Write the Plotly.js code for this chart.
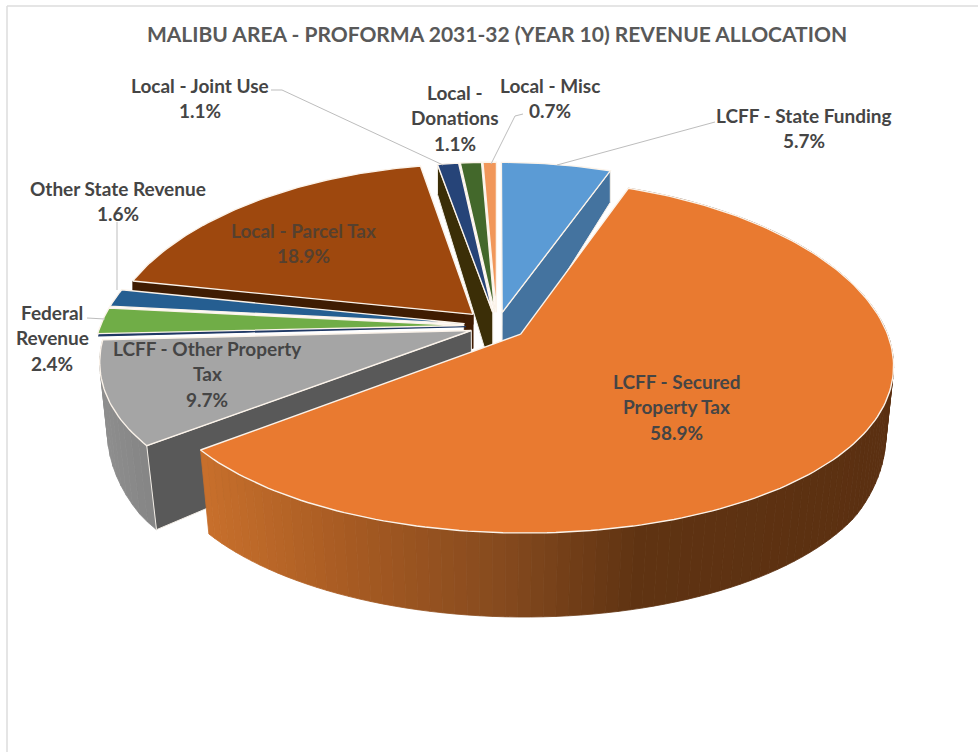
<!DOCTYPE html>
<html><head><meta charset="utf-8">
<script src="https://cdn.plot.ly/plotly-3.0.1.min.js"></script>
<style>html,body{margin:0;padding:0;background:#fff}#chart{width:978px;height:752px}</style>
</head><body><div id="chart"></div>
<script>
// ---------- data ----------
const titleText = 'MALIBU AREA - PROFORMA 2031-32 (YEAR 10) REVENUE ALLOCATION';
const categories = ['LCFF - State Funding','LCFF - Secured Property Tax','LCFF - Other Property Tax','Unlabeled','Federal Revenue','Other State Revenue','Local - Parcel Tax','Local - Joint Use','Local - Donations','Local - Misc'];
const shares = [5.7,58.9,9.7,0.1,2.4,1.6,18.9,1.1,1.1,0.7];
const labelLines = [
  ['LCFF - State Funding'],['LCFF - Secured','Property Tax'],['LCFF - Other Property','Tax'],[],
  ['Federal','Revenue'],['Other State Revenue'],['Local - Parcel Tax'],['Local - Joint Use'],['Local -','Donations'],['Local - Misc']];
// ---------- styles ----------
const topColors = ['#5b9bd5','#e97a30','#a5a5a5','#1f3864','#70ad47','#255e91','#9e480e','#264478','#43682b','#f1975a'];
const labelCenters = [[804,115],[676,381],[207,348],null,[52,312],[118,188],[303,230],[200,85],[455,92],[550,85]];
const labelColors = {6:'#55402f'};
const explodeBy = [0.08,0.08,0.075,0.085,0.09,0.09,0.095,0.08,0.08,0.08];
const leaders = [
  [[715,122],[557,165]],
  [[271,90],[282,90],[443,165]],
  [[523,114],[515,116],[491,164]],
  [[117,222],[117,290]],
  [[87,318],[105,319]]
];
// ---------- projection ----------
const cx=497, cy=326, F=364, G=172, kx=0.167, ky=0.124;
const total = shares.reduce((a,b)=>a+b,0);
let run=0;
const slices = shares.map((v,i)=>{const a0=run/total*2*Math.PI; run+=v; const a1=run/total*2*Math.PI; return {i,a0,a1,mid:(a0+a1)/2,e:explodeBy[i]};});
function depth(Y){return Math.min(84,65-33*Y);}
function proj(X,Y){return [cx+F*X/(1+kx*Y), cy-G*Y/(1+ky*Y)];}
function drop(X,Y){const p=proj(X,Y); const s=Math.max(0.965,Math.min(1,0.985+0.02*Y)); return [cx+(p[0]-cx)*s, p[1]+depth(Y)];}
function pt(s,a,r,fn){const X=s.e*Math.sin(s.mid)+r*Math.sin(a), Y=s.e*Math.cos(s.mid)+r*Math.cos(a); return fn(X,Y);}
function arc(s,a0,a1,fn){const n=Math.max(2,Math.ceil(Math.abs(a1-a0)/0.02)),o=[];for(let k=0;k<=n;k++)o.push(pt(s,a0+(a1-a0)*k/n,1,fn));return o;}
const traces=[];
function poly(points,fill,line,w){
  traces.push({type:'scatter',mode:'lines',x:points.map(p=>p[0]),y:points.map(p=>p[1]),fill:'toself',fillcolor:fill,
    line:{color:line||fill,width:w===undefined?0.8:w},hoverinfo:'skip',showlegend:false});
}
function drawTop(s,edge,w){
  const pts=[pt(s,0,0,proj)].concat(arc(s,s.a0,s.a1,proj)); pts.push(pts[0]);
  poly(pts,topColors[s.i],edge||'#fbf3ea',w||1.4);
}
function radialWall(s,a,color){
  poly([pt(s,0,0,proj),pt(s,a,1,proj),pt(s,a,1,drop),pt(s,0,0,drop),pt(s,0,0,proj)],color,'#f4efe8',1);
}
// shallow wall: only the part of a radial side that the neighbouring slices leave visible
function wallPart(s,a,r0,r1,d,color){
  const A=pt(s,a,r0,proj),B=pt(s,a,r1,proj);
  poly([A,B,[B[0],B[1]+d],[A[0],A[1]+d],A],color);
}
function hex(c){return [1,3,5].map(i=>parseInt(c.substr(i,2),16));}
function ramp(stops,x){
  if(x<=stops[0][0])return stops[0][1];
  for(let i=1;i<stops.length;i++){if(x<=stops[i][0]){const t=(x-stops[i-1][0])/(stops[i][0]-stops[i-1][0]);
    const a=hex(stops[i-1][1]),b=hex(stops[i][1]);return 'rgb('+a.map((v,k)=>Math.round(v+(b[k]-v)*t)).join(',')+')';}}
  return stops[stops.length-1][1];
}
function rimWall(s,a0,a1,stops,step){
  const n=Math.ceil(Math.abs(a1-a0)/step);
  for(let k=0;k<n;k++){
    const u=a0+(a1-a0)*k/n,v=a0+(a1-a0)*(k+1)/n;
    const A=pt(s,u,1,proj),B=pt(s,v,1,proj),C=pt(s,v,1,drop),D=pt(s,u,1,drop);
    poly([A,B,C,D,A],ramp(stops,(A[0]+B[0])/2));
  }
}
const [sBlue,sOrange,sGray,sTiny,sFed,sOsr,sParcel,sJoint,sDon,sMisc]=slices;
// painter's order, back to front
radialWall(sJoint,sJoint.a0,'#3b2e07');
drawTop(sJoint); drawTop(sDon); drawTop(sMisc);
radialWall(sBlue,sBlue.a1,'#44739f'); drawTop(sBlue);
wallPart(sParcel,sParcel.a0,0,1,10,'#3f1c02');
wallPart(sParcel,sParcel.a0,0,0.025,34,'#3f1c02');
drawTop(sParcel);
drawTop(sOsr); drawTop(sFed);
rimWall(sGray,sGray.a0,sGray.a1,[[95,'#8f8f8f'],[160,'#828282']],0.05);
radialWall(sGray,sGray.a0,'#595959'); drawTop(sGray);
drawTop(sTiny,'#1f3864',1.2);
rimWall(sOrange,sOrange.a1,sOrange.a0,[[200,'#c8702c'],[350,'#a65a22'],[500,'#864a1e'],[640,'#5f3312'],[890,'#5b3011']],0.03);
drawTop(sOrange);
leaders.forEach(l=>traces.push({type:'scatter',mode:'lines',x:l.map(p=>p[0]),y:l.map(p=>p[1]),line:{color:'#bdbdbd',width:1},hoverinfo:'skip',showlegend:false}));
// ---------- text ----------
const fontFamily='Lato, "Open Sans", sans-serif', lineGap=25.5;
const annotations=[];
slices.forEach(s=>{
  const c=labelCenters[s.i]; if(!c)return;
  const lines=labelLines[s.i].concat([shares[s.i].toFixed(1)+'%']);
  lines.forEach((t,k)=>annotations.push({xref:'x',yref:'y',x:c[0],y:c[1]+k*lineGap,text:'<b>'+t+'</b>',showarrow:false,xanchor:'center',yanchor:'middle',
    font:{family:fontFamily,size:19,color:labelColors[s.i]||'#454545'}}));
});
const layout={
  width:978,height:752,margin:{l:0,r:0,t:0,b:0},paper_bgcolor:'#fff',plot_bgcolor:'#fff',showlegend:false,
  title:{text:'<b>'+titleText+'</b>',x:497/978,xanchor:'center',y:1-35/752,yanchor:'middle',font:{family:fontFamily,size:21,color:'#595959'}},
  xaxis:{range:[0,978],visible:false,fixedrange:true},
  yaxis:{range:[752,0],visible:false,fixedrange:true},
  annotations,
  shapes:[
    {type:'line',xref:'x',yref:'y',x0:7,y0:6,x1:978,y1:6,line:{color:'#dcdcdc',width:1.5}},
    {type:'line',xref:'x',yref:'y',x0:7,y0:6,x1:7,y1:752,line:{color:'#dcdcdc',width:1.5}}
  ]
};
Plotly.newPlot('chart',traces,layout,{displayModeBar:false,staticPlot:true});
</script></body></html>
